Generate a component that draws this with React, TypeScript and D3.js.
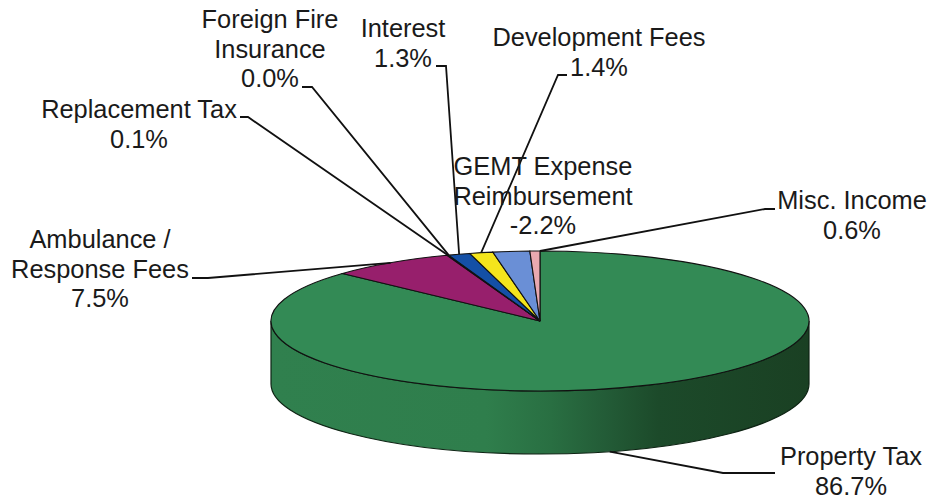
import React from 'react'
import * as d3 from 'd3'

// values as printed on the chart, clockwise from 12 o'clock
const categories = ['Property Tax', 'Ambulance / Response Fees', 'Replacement Tax', 'Foreign Fire Insurance', 'Interest', 'Development Fees', 'GEMT Expense Reimbursement', 'Misc. Income']
const percents = [86.7, 7.5, 0.1, 0.0, 1.3, 1.4, -2.2, 0.6]
const sliceColors = ['#338a55', '#971f6c', '#1450a6', '#ffffff', '#1450a6', '#f4e51c', '#6a8fd6', '#e9a9b0']

// how each name is broken onto lines
const nameLines = [['Property Tax'], ['Ambulance /', 'Response Fees'], ['Replacement Tax'], ['Foreign Fire', 'Insurance'], ['Interest'], ['Development Fees'], ['GEMT Expense', 'Reimbursement'], ['Misc. Income']]

// label layout, same order as categories: centre x, first baseline, leader start, elbow, shift of the leader end in degrees
const labelX = [851, 100, 139, 270, 403, 599, 543, 852]
const labelY = [465, 248, 118, 28, 37, 46, 175, 209]
const leaderFrom = [[775, 473], [192, 278], [240, 117], [302, 87], [436, 66], [567, 75], null, [775, 209]]
const leaderElbow = [[723, 473], [208, 278], [248, 117], [312, 87], [446, 66], [558, 75], null, [765, 209]]
const leaderShift = [8.6, 0, 0, 0, 0, 0, 0, 1.1]

const width = 932
const height = 499
const cx = 540
const cy = 321
const rx = 269
const ry = 70
const depth = 63
const fontSize = 25.4
const lineHeight = 29.5

export default function App() {
  const pie = d3.pie<number>().sort(null).value(d => Math.abs(d))
  const slices = pie(percents)
  const arc = d3.arc<d3.PieArcDatum<number>>().innerRadius(0).outerRadius(rx)

  const sidePath = `M${cx - rx},${cy} A${rx},${ry} 0 0 0 ${cx + rx},${cy} L${cx + rx},${cy + depth} A${rx},${ry} 0 0 1 ${cx - rx},${cy + depth} Z`

  const leaderLine = d3.line()

  return (
    <svg width={width} height={height} style={{ position: 'absolute', left: 0, top: 0, background: '#fff' }}>
      <defs>
        <linearGradient id="side" gradientUnits="userSpaceOnUse" x1={cx - rx} x2={cx + rx} y1="0" y2="0">
          <stop offset="0" stopColor="#30804e" />
          <stop offset="0.4" stopColor="#2f7e4c" />
          <stop offset="0.52" stopColor="#296f42" />
          <stop offset="0.62" stopColor="#235c37" />
          <stop offset="0.72" stopColor="#1c4a2a" />
          <stop offset="1" stopColor="#1a4023" />
        </linearGradient>
      </defs>

      <path d={sidePath} fill="url(#side)" stroke="#0e2414" strokeWidth={1.2} />
      <g transform={`translate(${cx},${cy}) scale(1,${ry / rx})`}>
        {slices.map((s, i) => (
          <path key={categories[i]} d={arc(s) || ''} fill={sliceColors[i]} stroke="#111" strokeWidth={1.1} vectorEffect="non-scaling-stroke" />
        ))}
      </g>

      {slices.map((s, i) => {
        const from = leaderFrom[i]
        const elbow = leaderElbow[i]
        if (!from || !elbow) return null
        const a = (s.startAngle + s.endAngle) / 2 + (leaderShift[i] * Math.PI) / 180
        const drop = i === 0 ? depth : 0
        const end: [number, number] = [cx + rx * Math.sin(a), cy - ry * Math.cos(a) + drop]
        return <path key={categories[i]} d={leaderLine([from as [number, number], elbow as [number, number], end]) || ''} fill="none" stroke="#111" strokeWidth={1.8} />
      })}

      <g fontFamily="'Liberation Sans', Arial, sans-serif" fontSize={fontSize} fill="#1a1a1a" textAnchor="middle">
        {categories.map((c, i) => {
          // plain hyphen on the negative value, as printed
          const lines = [...nameLines[i], percents[i].toFixed(1) + '%']
          return (
            <text key={c} x={labelX[i]} y={labelY[i]}>
              {lines.map((l, j) => (
                <tspan key={j} x={labelX[i]} dy={j === 0 ? 0 : lineHeight}>{l}</tspan>
              ))}
            </text>
          )
        })}
      </g>
    </svg>
  )
}
